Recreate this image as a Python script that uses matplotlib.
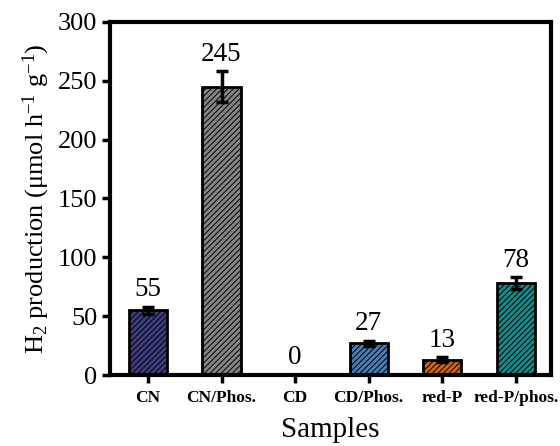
import matplotlib
matplotlib.use("Agg")
import matplotlib.pyplot as plt

plt.rcParams['font.family'] = ['Liberation Serif', 'DejaVu Serif']
plt.rcParams['mathtext.fontset'] = 'custom'
plt.rcParams['mathtext.rm'] = 'Liberation Serif'
plt.rcParams['mathtext.default'] = 'regular'
plt.rcParams['hatch.linewidth'] = 0.7

samples = ["CN", "CN/Phos.", "CD", "CD/Phos.", "red-P", "red-P/phos."]
rates = [55, 245, 0, 27, 13, 78]
errors = [3, 13, 0, 2, 2, 5]
colors = ["#3d3d80", "#858585", "#ffffff", "#4a7cb5", "#c8661a", "#168a88"]

fig = plt.figure(figsize=(5.6, 4.46), dpi=100)
ax = fig.add_axes([0.196, 0.159, 0.788, 0.792])

x = list(range(len(samples)))
ax.bar(x, rates, width=0.52, color=colors, edgecolor="black", linewidth=2,
       hatch="//////", yerr=errors, capsize=4,
       error_kw=dict(elinewidth=2.5, capthick=2.5, ecolor="black"))

for xi, v, e in zip(x, rates, errors):
    ax.text(xi, v + e + 4, str(v), ha="center", va="bottom", fontsize=19.5)

ax.set_xlim(-0.52, 5.48)
ax.set_ylim(0, 300)
ax.set_yticks(range(0, 301, 50))
ax.set_xticks(x)
ax.set_xticklabels(samples, fontsize=12.5, fontweight="bold")
ax.tick_params(axis="y", labelsize=19, width=2.5, length=6, direction="out", pad=3)
ax.tick_params(axis="x", width=2.5, length=6, direction="out", pad=5)
for s in ax.spines.values():
    s.set_linewidth(3)

ax.set_xlabel("Samples", fontsize=21, labelpad=8)
ax.set_ylabel("H$_2$ production (μmol h$^{-1}$ g$^{-1}$)", fontsize=19, labelpad=4)

fig.savefig("out.png", dpi=100)
